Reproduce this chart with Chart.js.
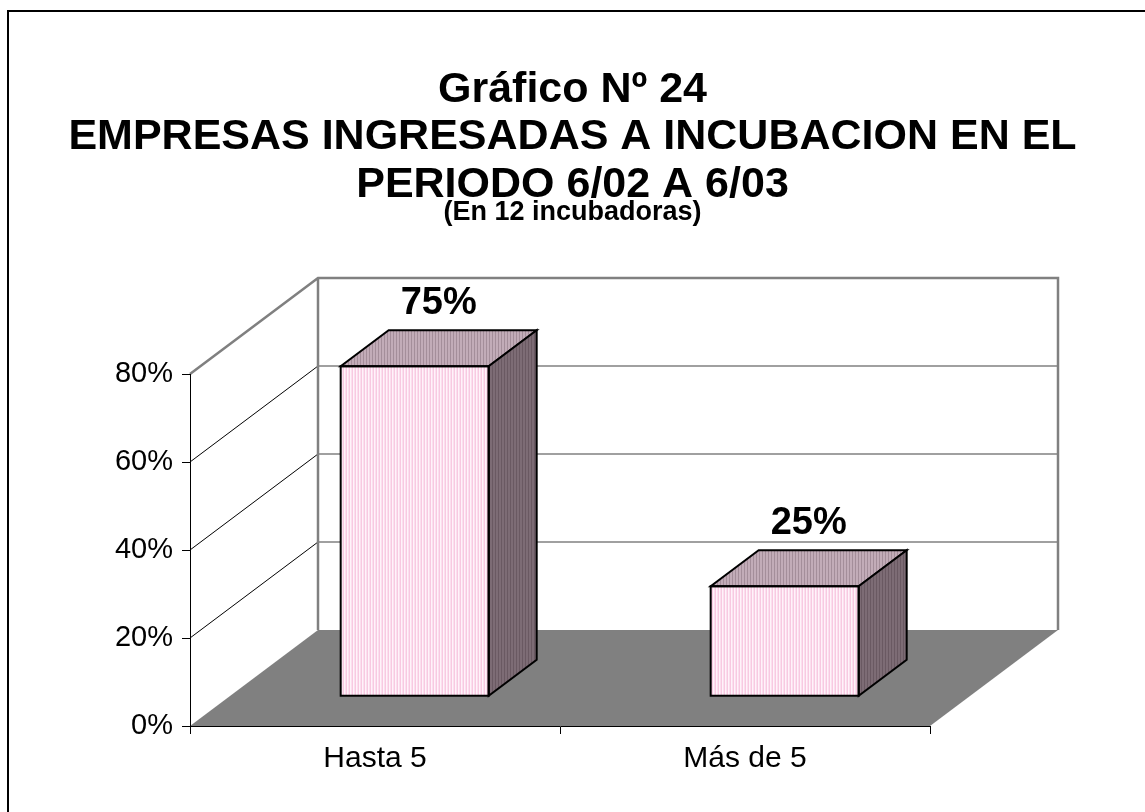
<!DOCTYPE html>
<html>
<head>
<meta charset="utf-8">
<script src="https://cdn.jsdelivr.net/npm/chart.js@4/dist/chart.umd.min.js"></script>
<style>
  html, body { margin: 0; padding: 0; background: #fff; }
  canvas { display: block; }
</style>
</head>
<body>
<canvas id="grafico24" width="1145" height="812"></canvas>
<script>
// datos del grafico
var categorias = ["Hasta 5", "Más de 5"];
var porcentajes = [0.75, 0.25];
var marcasEje = [0, 0.2, 0.4, 0.6, 0.8];
var tituloLineas = ["Gráfico Nº 24", "EMPRESAS INGRESADAS A INCUBACION EN EL", "PERIODO 6/02 A 6/03"];
var subtitulo = "(En 12 incubadoras)";

// profundidad de la vista 3d
var prof = { dx: 128, dy: -96 };
var frente = 0.31;   // donde empieza la barra dentro del piso
var fondoBarra = 0.375;

var rayas = function(base, linea, ancho) {
  var c = document.createElement("canvas");
  c.width = ancho;
  c.height = 4;
  var g = c.getContext("2d");
  g.fillStyle = base;
  g.fillRect(0, 0, ancho, 4);
  g.fillStyle = linea;
  g.fillRect(0, 0, 1, 4);
  return g.createPattern(c, "repeat");
};

var rayaFrente = rayas("#fff3fa", "#f5b6d6", 3);
var rayaArriba = rayas("#c2acb8", "#a48e9a", 3);
var rayaLado = rayas("#7d6c75", "#6a5962", 3);

var poligono = function(ctx, pts) {
  ctx.beginPath();
  ctx.moveTo(pts[0][0], pts[0][1]);
  for (var i = 1; i < pts.length; i++) ctx.lineTo(pts[i][0], pts[i][1]);
  ctx.closePath();
};

var cubo3d = {
  id: "cubo3d",
  beforeDraw: function(chart) {
    var ctx = chart.ctx;
    var xs = chart.scales.x, ys = chart.scales.y;
    var L = xs.left, R = xs.right;
    var y0 = ys.getPixelForValue(0);
    var yMax = ys.getPixelForValue(ys.max);
    ctx.save();
    ctx.fillStyle = "#fff";
    ctx.fillRect(0, 0, chart.width, chart.height);

    // marco del grafico
    ctx.strokeStyle = "#000";
    ctx.lineWidth = 2;
    ctx.beginPath();
    ctx.moveTo(8, chart.height);
    ctx.lineTo(8, 11);
    ctx.lineTo(chart.width, 11);
    ctx.stroke();

    // lineas de division en paredes
    marcasEje.forEach(function(v) {
      if (v === 0 || v === ys.max) return;
      var py = ys.getPixelForValue(v);
      ctx.strokeStyle = "#000";
      ctx.lineWidth = 1;
      ctx.beginPath();
      ctx.moveTo(L, py);
      ctx.lineTo(L + prof.dx, py + prof.dy);
      ctx.stroke();
      ctx.strokeStyle = "#808080";
      ctx.lineWidth = 1.5;
      ctx.beginPath();
      ctx.moveTo(L + prof.dx, py + prof.dy);
      ctx.lineTo(R + prof.dx, py + prof.dy);
      ctx.stroke();
    });

    // contorno de paredes
    ctx.strokeStyle = "#808080";
    ctx.lineWidth = 2.5;
    ctx.beginPath();
    ctx.moveTo(L, yMax);
    ctx.lineTo(L + prof.dx, yMax + prof.dy);
    ctx.lineTo(R + prof.dx, yMax + prof.dy);
    ctx.lineTo(R + prof.dx, y0 + prof.dy);
    ctx.moveTo(L + prof.dx, yMax + prof.dy);
    ctx.lineTo(L + prof.dx, y0 + prof.dy);
    ctx.stroke();

    // piso
    ctx.fillStyle = "#808080";
    poligono(ctx, [[L, y0], [R, y0], [R + prof.dx, y0 + prof.dy], [L + prof.dx, y0 + prof.dy]]);
    ctx.fill();
    ctx.restore();
  },
  beforeDatasetsDraw: function(chart) {
    chart.ctx.save();
    chart.ctx.translate(prof.dx * frente, prof.dy * frente);
  },
  afterDatasetsDraw: function(chart) {
    var ctx = chart.ctx;
    ctx.restore();
    var sx = prof.dx * frente, sy = prof.dy * frente;
    var bx = prof.dx * fondoBarra, by = prof.dy * fondoBarra;
    var meta = chart.getDatasetMeta(0);
    ctx.save();
    ctx.lineWidth = 2;
    ctx.strokeStyle = "#000";
    ctx.lineJoin = "miter";
    meta.data.forEach(function(el, i) {
      var p = el.getProps(["x", "y", "base", "width"], true);
      var l = p.x - p.width / 2 + sx, r = p.x + p.width / 2 + sx;
      var t = p.y + sy, b = p.base + sy;
      ctx.fillStyle = rayaArriba;
      poligono(ctx, [[l, t], [r, t], [r + bx, t + by], [l + bx, t + by]]);
      ctx.fill();
      ctx.stroke();
      ctx.fillStyle = rayaLado;
      poligono(ctx, [[r, t], [r + bx, t + by], [r + bx, b + by], [r, b]]);
      ctx.fill();
      ctx.stroke();
      ctx.strokeRect(l, t, r - l, b - t);

      ctx.fillStyle = "#000";
      ctx.font = "bold 38px 'Liberation Sans', Arial, sans-serif";
      ctx.textAlign = "center";
      ctx.textBaseline = "middle";
      ctx.fillText(Math.round(porcentajes[i] * 100) + "%", p.x + sx + bx / 2, t + by - 27);
    });
    ctx.restore();
  }
};

Chart.defaults.font.family = "'Liberation Sans', Arial, sans-serif";
Chart.defaults.color = "#000";

var grafico = new Chart(document.getElementById("grafico24"), {
  type: "bar",
  data: {
    labels: categorias,
    datasets: [
      {
        label: "Empresas",
        data: porcentajes,
        backgroundColor: rayaFrente,
        borderColor: "#000",
        borderWidth: 0,
        categoryPercentage: 1,
        barPercentage: 0.4,
        clip: false,
      },
    ],
  },
  options: {
    responsive: false,
    devicePixelRatio: 1,
    animation: false,
    layout: { padding: 0 },
    plugins: {
      legend: { display: false },
      tooltip: { enabled: false },
      title: {
        display: true,
        text: tituloLineas,
        color: "#000",
        font: { size: 43, weight: "bold", lineHeight: "47.5px" },
        padding: { top: 66.25, bottom: 0 },
      },
      subtitle: {
        display: true,
        text: subtitulo,
        color: "#000",
        font: { size: 27, weight: "bold", lineHeight: "8px" },
        padding: { top: 0, bottom: 157.25 },
      },
    },
    scales: {
      x: {
        afterFit: function(s) { s.height = 86; },
        grid: { offset: true, drawOnChartArea: false, tickLength: 8, color: "#000" },
        border: { color: "#000", width: 1 },
        ticks: { font: { size: 30 }, padding: 7, color: "#000" },
      },
      y: {
        min: 0,
        max: 0.8,
        afterFit: function(s) { s.width = 190; },
        afterBuildTicks: function(s) { s.ticks = marcasEje.map(function(v) { return { value: v }; }); },
        grid: { drawOnChartArea: false, tickLength: 8, color: "#000" },
        border: { color: "#000", width: 1 },
        ticks: {
          font: { size: 29 },
          padding: 9,
          color: "#000",
          callback: function(v) { return Math.round(v * 100) + "%"; },
        },
      },
      // espacio a la derecha para el fondo 3d
      margen: {
        type: "linear",
        position: "right",
        afterFit: function(s) { s.width = 215; },
        grid: { display: false },
        border: { display: false },
        ticks: { display: false },
      },
    },
  },
  plugins: [cubo3d],
});
</script>
</body>
</html>
